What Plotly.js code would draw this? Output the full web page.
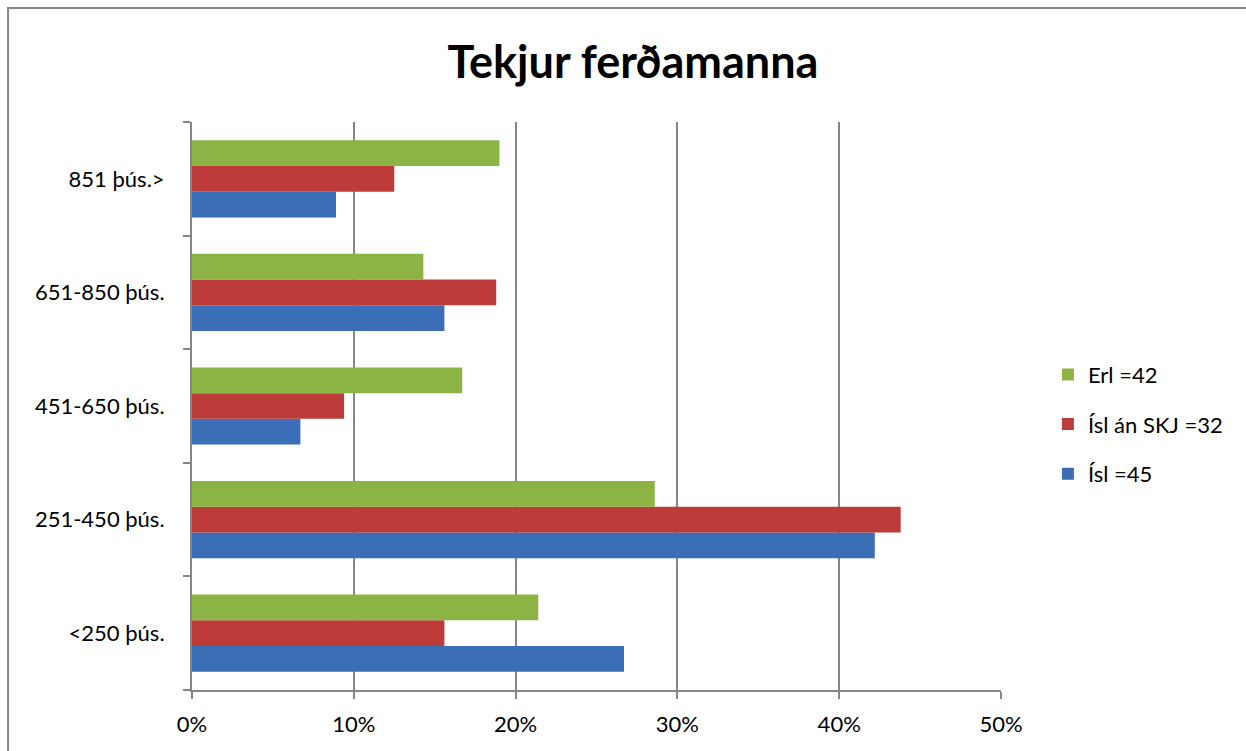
<!DOCTYPE html>
<html>
<head>
<meta charset="utf-8">
<script src="https://cdn.plot.ly/plotly-3.0.1.min.js"></script>
<style>html,body{margin:0;padding:0;background:#fff;}#chart{width:1246px;height:751px;}</style>
</head>
<body>
<div id="chart"></div>
<script>
const categories = ['<250 þús.', '251-450 þús.', '451-650 þús.', '651-850 þús.', '851 þús.>'];
const seriesNames = ['Ísl =45', 'Ísl án SKJ =32', 'Erl =42'];
const isl = [26.7, 42.2, 6.7, 15.6, 8.9];
const islAnSkj = [15.6, 43.8, 9.4, 18.8, 12.5];
const erl = [21.4, 28.6, 16.7, 14.3, 19.0];
const colors = ['#3a6fb8', '#bd3b39', '#8cb444'];

const FONT = 'Lato, "Liberation Sans", sans-serif';
const seriesValues = [isl, islAnSkj, erl];
const traces = seriesValues.map((vals, i) => ({
  type: 'bar',
  orientation: 'h',
  name: seriesNames[i],
  y: categories,
  x: vals,
  legendgroup: 'g' + i,
  legendrank: 1003 - i,
  marker: { color: colors[i], line: { width: 0 } },
  hoverinfo: 'x+y+name'
}));

const layout = {
  width: 1246,
  height: 751,
  paper_bgcolor: '#ffffff',
  plot_bgcolor: '#ffffff',
  margin: { l: 192, r: 245, t: 122, b: 61 },
  font: { family: FONT, size: 22, color: '#000' },
  title: {
    text: '<b>Tekjur ferðamanna</b>',
    font: { family: FONT, size: 45, color: '#000' },
    x: 0.508, xanchor: 'center', y: 0.917, yanchor: 'middle'
  },
  barmode: 'group',
  bargap: 0.32,
  bargroupgap: 0,
  showlegend: true,
  legend: {
    x: 1.058, xanchor: 'left', y: 0.468, yanchor: 'middle',
    traceorder: 'grouped',
    tracegroupgap: 18,
    font: { family: FONT, size: 22, color: '#000' },
    bgcolor: 'rgba(0,0,0,0)'
  },
  xaxis: {
    range: [0, 50],
    dtick: 10,
    tick0: 0,
    ticksuffix: '%',
    showgrid: true,
    gridcolor: '#868686',
    gridwidth: 2,
    zeroline: false,
    showline: true,
    linecolor: '#868686',
    linewidth: 2,
    ticks: 'outside',
    ticklen: 7,
    tickwidth: 2,
    tickcolor: '#868686',
    ticklabelstandoff: 7,
    tickfont: { family: FONT, size: 22, color: '#000' },
    fixedrange: true
  },
  yaxis: {
    type: 'category',
    showgrid: false,
    zeroline: false,
    showline: true,
    linecolor: '#868686',
    linewidth: 2,
    ticks: 'outside',
    tickson: 'boundaries',
    ticklen: 7,
    tickwidth: 2,
    tickcolor: '#868686',
    ticklabelstandoff: 21,
    tickfont: { family: FONT, size: 22, color: '#000' },
    fixedrange: true
  },
  shapes: [{
    type: 'rect', xref: 'paper', yref: 'paper',
    x0: -0.2274, x1: 1.4, y0: -0.3, y1: 1.2007,
    line: { color: '#878787', width: 2 },
    fillcolor: 'rgba(0,0,0,0)',
    layer: 'below'
  }]
};

Plotly.newPlot('chart', traces, layout, { displayModeBar: false, staticPlot: true });
</script>
</body>
</html>
